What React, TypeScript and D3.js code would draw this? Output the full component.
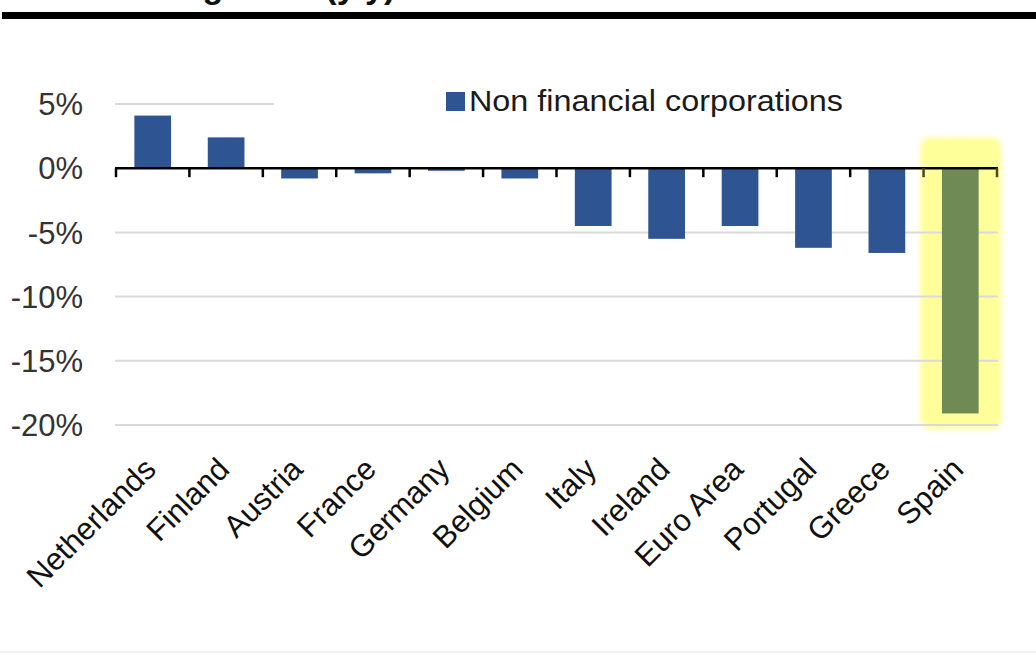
import React from "react";
import * as d3 from "d3";

const countries = ["Netherlands", "Finland", "Austria", "France", "Germany", "Belgium", "Italy", "Ireland", "Euro Area", "Portugal", "Greece", "Spain"];
const values = [4.1, 2.4, -0.8, -0.4, -0.2, -0.8, -4.5, -5.5, -4.5, -6.2, -6.6, -19.1];
const yTicks = [5, 0, -5, -10, -15, -20];
const highlighted = ["Spain"];
const seriesName = "Non financial corporations";
const titleText = "Bank credit growth (y/y)";

const W = 1036;
const H = 657;
const FONT = "Liberation Sans, Arial, sans-serif";

export default function App() {
  const x = d3.scaleBand<string>().domain(countries).range([116, 997]).paddingInner(0.5).paddingOuter(0.25);
  const y = d3.scaleLinear().domain([-20, 5]).range([425, 104]);
  const step = x.step();
  const boundaries = countries.map((c) => (x(c) as number) - (step * 0.5) / 2);
  boundaries.push(997);

  return (
    <svg width={W} height={H} style={{ position: "absolute", left: 0, top: 0, background: "#fff" }} fontFamily={FONT}>
      <defs>
        <filter id="soft" x="-20%" y="-20%" width="140%" height="140%">
          <feGaussianBlur stdDeviation="2.5" />
        </filter>
      </defs>
      {/* title, cut off at the top edge as in the source image */}
      <text x={8} y={-2} fontSize={34} fontWeight="bold" fill="#111">{titleText}</text>
      <rect x={2} y={12} width={1034} height={7} fill="#000" />
      <line x1={0} x2={W} y1={652} y2={652} stroke="#eeeeee" strokeWidth={1.5} />

      {/* highlight */}
      {highlighted.map((c) => {
        const cx = (x(c) as number) + x.bandwidth() / 2;
        return (
          <rect key={c} x={cx - 40} y={y(2.4)} width={81} height={y(-20.3) - y(2.4)} rx={10} fill="#ffff99" filter="url(#soft)" />
        );
      })}

      {/* gridlines */}
      {yTicks.filter((t) => t !== 0).map((t) => (
        <line key={t} x1={115} x2={998} y1={y(t)} y2={y(t)} stroke="#d9d9d9" strokeWidth={2} />
      ))}

      {/* legend (white box covering part of top gridline) */}
      <rect x={274} y={80} width={726} height={45} fill="#fff" />
      <rect x={446} y={92} width={19} height={19} fill="#2e5592" />
      <text x={469} y={111} fontSize={29} fill="#1a1a1a" textLength={374} lengthAdjust="spacingAndGlyphs">{seriesName}</text>

      {/* y labels */}
      {yTicks.map((t) => (
        <text key={t} x={83} y={y(t)} dy="0.36em" textAnchor="end" fontSize={31} fill="#333">{`${t}%`}</text>
      ))}

      {/* bars */}
      {countries.map((c, i) => {
        const v = values[i];
        const isH = highlighted.includes(c);
        return (
          <rect key={c} x={x(c)} width={x.bandwidth()} y={y(Math.max(0, v))} height={Math.abs(y(v) - y(0))} fill={isH ? "#6f8a55" : "#2e5592"} />
        );
      })}

      {/* axis */}
      <line x1={115} x2={998} y1={y(0)} y2={y(0)} stroke="#000" strokeWidth={2.5} />
      {boundaries.map((b, i) => (
        <line key={i} x1={b} x2={b} y1={y(0)} y2={y(0) + 9} stroke={b > 915 ? "#4a4a1a" : "#000"} strokeWidth={2.5} />
      ))}

      {/* x labels */}
      {countries.map((c) => {
        const cx = (x(c) as number) + x.bandwidth() / 2 + 5;
        const ly = 471;
        return (
          <text key={c} x={cx} y={ly} textAnchor="end" fontSize={31} fill="#111" transform={`rotate(-45 ${cx} ${ly})`}>{c}</text>
        );
      })}
    </svg>
  );
}
